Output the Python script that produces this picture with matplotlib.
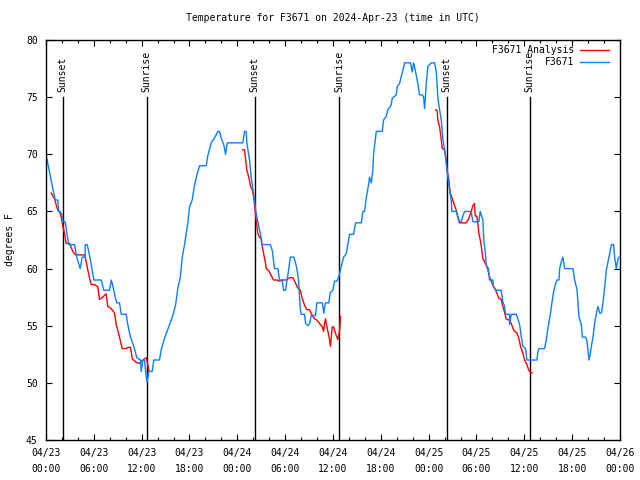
import datetime as dt
import matplotlib
matplotlib.use("Agg")
import matplotlib.pyplot as plt
import matplotlib.dates as mdates

plt.rcParams['font.family'] = ['DejaVu Sans Mono']

start = dt.datetime(2024, 4, 23)

# observations (hours after 04/23 00:00 UTC, deg F)
obs_hours = [0.0, 0.85, 1.15, 1.48, 1.57, 1.78, 1.98, 2.11, 2.41, 2.61, 2.86, 3.58, 3.86, 4.29,
             4.54, 4.9, 4.92, 5.17, 5.54, 5.75, 6.0, 6.93, 7.25, 7.97, 8.18, 8.34, 8.72, 8.88,
             9.22, 9.44, 10.06, 10.26, 10.6, 11.02, 11.39, 11.86, 11.94, 12.15, 12.36, 12.57,
             12.7, 12.9, 13.32, 13.52, 14.24, 14.45, 14.87, 15.5, 15.91, 16.25, 16.54, 16.84,
             17.09, 17.38, 17.59, 17.79, 18.0, 18.34, 18.63, 18.85, 19.26, 20.1, 20.3, 20.73,
             21.27, 21.56, 21.77, 21.98, 22.31, 22.52, 22.73, 24.69, 24.9, 25.11, 25.19, 25.53,
             25.74, 25.95, 26.16, 26.29, 26.5, 26.88, 27.08, 28.13, 28.38, 28.58, 28.66, 29.08,
             29.29, 29.63, 29.8, 30.05, 30.21, 30.46, 30.64, 31.09, 31.3, 31.47, 31.68, 31.89,
             32.01, 32.43, 32.56, 32.84, 33.06, 33.27, 33.81, 33.97, 34.65, 34.85, 35.03, 35.48,
             35.66, 35.98, 36.2, 36.49, 36.74, 37.04, 37.33, 37.67, 37.87, 38.08, 38.58, 38.83,
             39.55, 39.75, 39.96, 40.17, 40.5, 40.58, 40.8, 41.0, 41.09, 41.43, 42.18, 42.34,
             42.68, 42.88, 43.3, 43.43, 43.93, 44.06, 44.35, 44.56, 44.76, 44.97, 45.72, 45.93,
             46.1, 46.22, 46.44, 46.64, 46.85, 47.2, 47.36, 47.49, 47.7, 47.9, 48.33, 48.74,
             48.96, 49.16, 49.37, 49.58, 49.78, 50.0, 50.21, 50.33, 50.53, 50.83, 50.91, 51.46,
             51.87, 52.09, 52.29, 52.5, 53.34, 53.54, 54.29, 54.47, 54.59, 54.79, 54.92, 55.09,
             55.22, 55.5, 55.63, 56.05, 56.13, 56.47, 57.1, 57.3, 57.51, 57.64, 58.14, 58.15,
             58.36, 58.99, 59.19, 59.41, 59.62, 59.82, 60.16, 60.32, 61.58, 61.7, 61.83, 62.54,
             62.76, 62.96, 63.26, 63.46, 63.68, 63.93, 64.09, 64.34, 64.43, 64.64, 64.84, 65.06,
             66.1, 66.31, 66.6, 66.85, 67.15, 67.28, 67.69, 67.82, 67.98, 68.11, 68.28, 68.41,
             68.61, 68.8, 69.04, 69.24, 69.45, 69.66, 69.87, 70.08, 70.29, 70.62, 70.92, 71.2,
             71.33, 71.54, 71.74, 71.87]
obs_temps = [70.0, 67.0, 66.0, 66.0, 65.0, 65.0, 64.7, 64.1, 64.1, 63.1, 62.1, 62.1, 61.0, 60.0,
             61.0, 61.0, 62.1, 62.1, 60.9, 60.0, 59.0, 59.0, 58.1, 58.1, 59.0, 58.6, 57.4, 57.0,
             57.0, 56.0, 56.0, 55.1, 54.0, 53.2, 52.2, 52.0, 51.0, 52.0, 52.0, 50.5,
             50.1, 51.0, 51.0, 52.0, 52.0, 52.9, 53.9, 55.1, 55.9, 56.8, 58.3, 59.2,
             61.0, 62.1, 63.1, 64.0, 65.4, 66.0, 67.3, 68.0, 69.0, 69.0, 69.9, 71.0,
             71.6, 72.0, 72.0, 71.4, 70.8, 70.0, 71.0, 71.0, 72.0, 72.0, 71.0, 69.5,
             68.0, 66.9, 66.0, 65.1, 64.3, 63.1, 62.1, 62.1, 61.6, 60.5, 60.0, 60.0,
             59.0, 59.0, 58.1, 58.1, 58.9, 60.0, 61.0, 61.0, 60.5, 60.0, 59.0, 56.5,
             56.0, 56.0, 55.2, 55.0, 55.2, 55.9, 55.9, 57.0, 57.0, 56.1, 57.0, 57.0,
             57.9, 58.1, 58.9, 58.9, 59.3, 60.2, 61.0, 61.3, 62.2, 63.0, 63.0, 64.0,
             64.0, 65.0, 65.0, 66.2, 67.5, 68.0, 67.5, 68.6, 70.0, 72.0, 72.0, 73.0,
             73.3, 73.9, 74.3, 74.9, 75.2, 75.9, 76.2, 76.8, 77.3, 78.0, 78.0, 77.2,
             78.0, 77.7, 76.9, 76.2, 75.2, 75.2, 75.0, 74.0, 76.2, 77.7, 78.0, 78.0,
             77.2, 74.9, 73.9, 73.0, 71.3, 70.4, 69.2, 68.5, 67.3, 66.0, 65.0, 65.0,
             64.1, 64.1, 64.6, 65.0, 65.0, 64.1, 64.1, 65.0, 64.7, 64.3, 62.5, 61.5,
             60.3, 60.0, 59.0, 59.0, 58.4, 58.1, 58.1, 57.1, 56.7, 56.0, 56.0, 55.1,
             56.0, 56.0, 55.6, 55.1, 54.0, 53.2, 53.0, 52.0, 52.0, 52.7, 53.0, 53.0,
             53.8, 54.8, 56.0, 57.0, 58.0, 58.7, 59.0, 59.0, 60.0, 60.6, 61.0, 60.0,
             60.0, 59.0, 58.2, 55.8, 55.1, 54.0, 54.0, 53.8, 52.9, 52.0, 52.6, 53.2,
             54.0, 55.1, 56.1, 56.7, 56.1, 56.1, 57.0, 58.4, 59.9, 61.0, 62.1, 62.1,
             61.0, 60.0, 60.8, 61.0]

# analysis runs (three separate segments)
ana_hours = [
    [0.65, 1.07, 1.48, 1.69, 1.91, 2.11, 2.32, 2.53, 2.95, 3.36, 3.7, 4.83, 5.04, 5.24, 5.46,
     5.67, 6.08, 6.5, 6.71, 7.12, 7.55, 7.75, 8.18, 8.59, 8.81, 9.01, 9.22, 9.56, 10.06, 10.26,
     10.6, 10.82, 11.32, 11.73, 11.94, 12.36, 12.57, 12.77, 12.9],
    [24.69, 24.9, 25.19, 25.44, 25.66, 25.87, 26.04, 26.29, 26.57, 26.79, 27.0, 27.08, 27.33,
     27.5, 27.63, 27.95, 28.25, 28.54, 28.96, 29.29, 29.71, 30.13, 30.55, 30.97, 31.18, 31.59,
     31.89, 32.14, 32.43, 32.72, 33.06, 33.4, 33.69, 33.97, 34.31, 34.66, 34.82, 34.94, 35.07,
     35.15, 35.36, 35.56, 35.69, 35.9, 36.07, 36.32, 36.61, 36.82, 36.95],
    [48.86, 49.07, 49.15, 49.37, 49.58, 49.71, 50.0, 50.21, 50.33, 50.53, 50.7, 50.95, 51.15,
     51.46, 51.66, 51.87, 52.71, 53.04, 53.34, 53.54, 53.75, 53.84, 54.04, 54.16, 54.29, 54.5,
     54.67, 54.79, 55.0, 55.22, 55.42, 55.63, 55.97, 56.26, 56.47, 56.8, 57.1, 57.3, 57.51,
     57.72, 58.05, 58.36, 58.56, 58.77, 59.06, 59.31, 59.52, 59.82, 60.03, 60.32, 60.57,
     60.78, 60.99],
]
ana_temps = [
    [66.6, 66.1, 65.1, 65.0, 64.5, 63.7, 63.1, 62.2, 62.2, 61.5, 61.2, 61.2, 60.6, 59.9, 59.2,
     58.6, 58.6, 58.4, 57.3, 57.5, 57.8, 56.7, 56.5, 56.1, 55.1, 54.6, 54.0, 53.0, 53.0, 53.1,
     53.1, 52.1, 51.8, 51.7, 51.9, 52.1, 52.2, 51.6, 51.1],
    [70.4, 70.4, 68.6, 68.0, 67.2, 66.9, 66.3, 64.7, 63.1, 62.7, 62.7, 62.1, 61.2,
     60.6, 60.0, 59.8, 59.4, 59.0, 59.0, 58.9, 59.0, 59.0, 59.2, 59.2, 58.9, 58.3,
     58.1, 57.4, 56.8, 56.4, 56.4, 55.9, 55.6, 55.5, 55.2, 54.9, 54.5, 55.2, 55.6,
     55.2, 54.5, 53.8, 53.2, 54.9, 54.9, 54.3, 53.8, 54.5, 55.8],
    [73.9, 73.8, 73.0, 72.4, 71.3, 70.5, 70.4, 69.4, 68.5, 67.8, 66.6, 66.15, 65.7,
     65.1, 64.5, 64.0, 64.0, 64.4, 65.0, 65.5, 65.7, 64.6, 64.6, 64.0, 63.1, 62.4,
     61.6, 60.9, 60.6, 60.3, 59.9, 59.3, 58.7, 58.3, 58.0, 57.4, 57.3, 56.7, 56.2,
     55.6, 55.5, 55.2, 54.8, 54.5, 54.4, 53.9, 53.2, 52.6, 52.0, 51.6, 51.1,
     50.9, 50.9],
]

sun_hours = [2.1, 12.65, 26.16, 36.74, 50.28, 60.68]
sun_labels = ['Sunset', 'Sunrise', 'Sunset', 'Sunrise', 'Sunset', 'Sunrise']


def to_time(hours):
    return [start + dt.timedelta(hours=h) for h in hours]


fig = plt.figure(figsize=(6.4, 4.8), dpi=100)
ax = fig.add_axes([46 / 640, 40 / 480, 574 / 640, 400 / 480])

for i, (hh, tt) in enumerate(zip(ana_hours, ana_temps)):
    ax.plot(to_time(hh), tt, color='#ff0000', lw=1.0,
            label='F3671 Analysis' if i == 0 else None)
ax.plot(to_time(obs_hours), obs_temps, color='#0a7fff', lw=1.0, label='F3671')

for h, lab in zip(sun_hours, sun_labels):
    t = start + dt.timedelta(hours=h)
    ax.plot([t, t], [45, 75], color='black', lw=1.0, zorder=1)
    ax.text(t, 75.45, lab, rotation=90, ha='center', va='bottom', fontsize=7)

ax.set_xlim(start, start + dt.timedelta(hours=72))
ax.set_ylim(45, 80)
ax.set_yticks(range(45, 81, 5))
ax.xaxis.set_major_locator(mdates.HourLocator(byhour=range(0, 24, 6)))
ax.xaxis.set_minor_locator(mdates.HourLocator(byhour=range(0, 24, 2)))
ax.xaxis.set_major_formatter(mdates.DateFormatter('%m/%d\n%H:%M'))
ax.tick_params(which='both', direction='in', top=True, right=True, labelsize=7)
ax.tick_params(which='major', length=4.5, width=0.8)
ax.tick_params(which='minor', length=2.5, width=0.8)
ax.tick_params(axis='x', which='major', pad=6)
ax.tick_params(axis='y', which='major', pad=6)
for lbl in ax.get_xticklabels():
    lbl.set_linespacing(1.7)
for s in ax.spines.values():
    s.set_linewidth(1.0)

ax.set_title('Temperature for F3671 on 2024-Apr-23 (time in UTC)', fontsize=7, pad=14)
ax.set_ylabel('degrees F', fontsize=7, labelpad=8)

ax.legend(loc='upper right', bbox_to_anchor=(1 - 4 / 574, 1 + 1.5 / 400),
          frameon=False, markerfirst=False, fontsize=7,
          handlelength=3.0, handletextpad=0.6, labelspacing=0.2,
          borderpad=0.2, borderaxespad=0.5)

fig.savefig('out.png', dpi=100)
